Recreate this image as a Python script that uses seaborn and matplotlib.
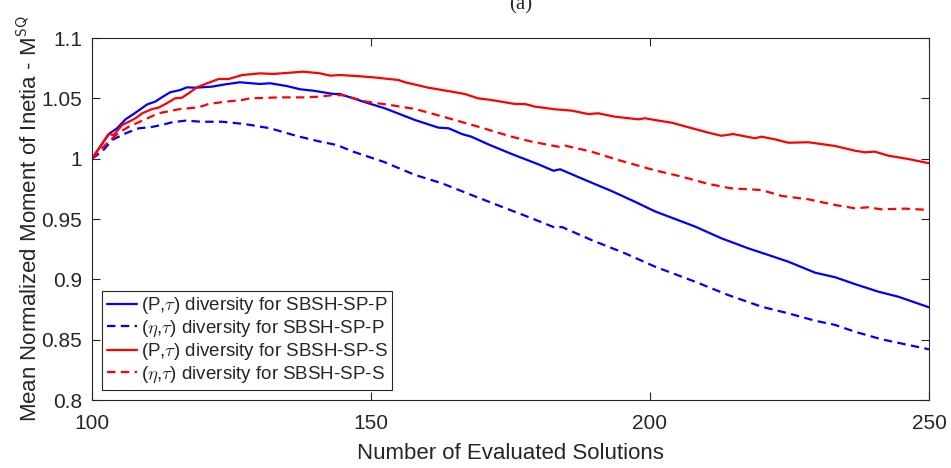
import matplotlib
matplotlib.use("Agg")
import matplotlib.pyplot as plt
import seaborn as sns
import pandas as pd

# ---- data ----
x_blue_solid = [100, 103.0, 104.5, 106.0, 107.8, 109.9, 111.3, 112.5, 114.0, 115.8, 117.0, 118.5, 121.5,
                123.9, 126.5, 130.1, 131.9, 134.9, 137.3, 139.7, 143.3, 144.4, 146.8, 149.2, 152.5,
                157.9, 162.1, 163.9, 166.3, 168.0, 171.0, 175.2, 180.0, 182.7, 183.9, 188.4, 193.1,
                197.3, 200.9, 208.1, 212.8, 217.6, 221.2, 224.8, 229.6, 233.2, 236.7, 240.9, 244.5, 250]
y_blue_solid = [1.0, 1.0204, 1.0252, 1.0326, 1.0381, 1.045, 1.0472, 1.0508, 1.055, 1.0569, 1.0591, 1.0588,
                1.0597, 1.0616, 1.0633, 1.0619, 1.0625, 1.0602, 1.0575, 1.0563, 1.0536, 1.0536, 1.05,
                1.0464, 1.0417, 1.032, 1.0257, 1.0252, 1.0204, 1.0182, 1.0119, 1.0039, 0.9953, 0.99,
                0.9912, 0.9823, 0.9732, 0.9643, 0.9563, 0.9437, 0.934, 0.9257, 0.9202, 0.9146, 0.9055,
                0.9017, 0.8961, 0.8898, 0.8856, 0.8768]

x_blue_dash = [100, 101.8, 103.6, 106.0, 108.4, 110.4, 112.5, 114.3, 116.7, 119.7, 123.3, 127.4, 131.9,
               136.7, 140.9, 143.9, 146.8, 152.2, 157.9, 162.7, 168.0, 173.4, 178.8, 183.0, 184.2,
               189.5, 195.5, 200.9, 208.1, 214.0, 220.0, 224.8, 229.6, 233.2, 236.7, 241.5, 246.3, 250]
y_blue_dash = [1.0, 1.0058, 1.0155, 1.021, 1.0252, 1.026, 1.0279, 1.0301, 1.0315, 1.0306, 1.0306, 1.0287,
               1.0252, 1.0188, 1.0141, 1.0113, 1.0058, 0.9975, 0.9865, 0.9796, 0.9699, 0.9602, 0.9506,
               0.9428, 0.9434, 0.9326, 0.9216, 0.9105, 0.898, 0.887, 0.8773, 0.8718, 0.8657, 0.8622,
               0.8566, 0.8503, 0.8456, 0.842]

x_red_solid = [100, 103.0, 103.9, 105.4, 106.6, 107.8, 109.0, 110.8, 111.9, 113.4, 114.9, 116.1, 117.3,
               118.8, 120.6, 122.7, 124.5, 126.9, 130.1, 132.5, 137.9, 140.9, 142.7, 144.4, 147.4,
               150.4, 154.9, 156.1, 160.3, 164.5, 166.8, 169.2, 171.6, 173.4, 175.8, 177.6, 179.4,
               183.0, 186.0, 188.9, 190.7, 193.7, 197.9, 199.1, 200.9, 203.9, 206.9, 210.5, 212.8,
               214.9, 218.8, 220.0, 222.4, 224.8, 228.4, 233.2, 236.7, 238.5, 240.3, 242.7, 246.3, 250]
y_red_solid = [1.0, 1.0204, 1.0196, 1.0279, 1.0306, 1.0335, 1.0376, 1.0412, 1.0422, 1.0459, 1.05, 1.0505,
               1.0541, 1.0591, 1.0624, 1.066, 1.066, 1.0693, 1.0707, 1.0702, 1.0721, 1.0707, 1.0688,
               1.0693, 1.0685, 1.0674, 1.0652, 1.0633, 1.0588, 1.0555, 1.0536, 1.05, 1.0486, 1.0472,
               1.0453, 1.0453, 1.0431, 1.0409, 1.0398, 1.037, 1.0376, 1.0348, 1.0326, 1.0335, 1.032,
               1.0298, 1.026, 1.0215, 1.019, 1.0204, 1.0169, 1.0182, 1.016, 1.0132, 1.0136, 1.0105,
               1.0066, 1.0053, 1.0058, 1.0025, 0.9997, 0.9962]

x_red_dash = [100, 101.8, 103.3, 104.8, 106.6, 109.0, 111.9, 115.5, 119.1, 120.9, 123.9, 126.9, 128.3,
              133.7, 137.9, 140.9, 143.3, 145.0, 149.2, 153.4, 157.9, 163.3, 169.2, 175.2, 178.8,
              183.6, 184.8, 189.5, 194.3, 200.9, 205.7, 210.5, 214.6, 220.0, 223.6, 228.4, 233.2,
              236.7, 239.1, 241.5, 245.7, 250]
y_red_dash = [1.0, 1.0086, 1.0155, 1.0215, 1.0265, 1.0315, 1.0376, 1.0409, 1.0426, 1.0453, 1.0472, 1.0486,
              1.05, 1.0508, 1.0508, 1.0514, 1.0528, 1.0525, 1.0472, 1.0445, 1.0412, 1.0343, 1.0265,
              1.0182, 1.0141, 1.0099, 1.0108, 1.0058, 0.9989, 0.9903, 0.9851, 0.979, 0.9754, 0.974,
              0.9691, 0.9663, 0.9616, 0.9589, 0.9597, 0.958, 0.9586, 0.9575]

labels = [r'(P,$\tau$) diversity for SBSH-SP-P',
          r'($\eta$,$\tau$) diversity for SBSH-SP-P',
          r'(P,$\tau$) diversity for SBSH-SP-S',
          r'($\eta$,$\tau$) diversity for SBSH-SP-S']
x_ticks = [100, 150, 200, 250]
y_ticks = [0.8, 0.85, 0.9, 0.95, 1.0, 1.05, 1.1]
y_ticklabels = ['0.8', '0.85', '0.9', '0.95', '1', '1.05', '1.1']

sns.set_style("ticks")
plt.rcParams['font.family'] = ['Liberation Sans', 'DejaVu Sans']
plt.rcParams['mathtext.fontset'] = 'cm'

fig = plt.figure(figsize=(9.51, 4.68), dpi=100)
ax = fig.add_axes([92/951, 68/468, (929-92)/951, (400-38)/468])

series = [(x_blue_solid, y_blue_solid, '#0000FF', '-'),
          (x_blue_dash, y_blue_dash, '#0000FF', '--'),
          (x_red_solid, y_red_solid, '#FF0000', '-'),
          (x_red_dash, y_red_dash, '#FF0000', '--')]
for (xs, ys, c, ls), lab in zip(series, labels):
    df = pd.DataFrame({'x': xs, 'y': ys})
    sns.lineplot(data=df, x='x', y='y', ax=ax, color=c, linewidth=1.6, label=lab)
    if ls == '--':
        ax.get_lines()[-1].set_dashes((3.8, 2.4))

ax.set_xlim(100, 250)
ax.set_ylim(0.8, 1.1)
ax.set_xticks(x_ticks)
ax.set_xticklabels([str(t) for t in x_ticks])
ax.set_yticks(y_ticks)
ax.set_yticklabels(y_ticklabels)
ax.tick_params(direction='in', top=True, right=True, length=6, width=0.8,
               labelsize=15, colors='#262626')
ax.tick_params(axis='x', pad=10)
ax.tick_params(axis='y', pad=7)
for s in ax.spines.values():
    s.set_visible(True)
    s.set_color('#262626')
    s.set_linewidth(0.8)

ax.set_xlabel('Number of Evaluated Solutions', fontsize=16, color='#262626', labelpad=7)
ax.set_ylabel(r'Mean Normalized Moment of Inetia - M$^{\mathsf{SQ}}$', fontsize=16,
              color='#262626', labelpad=-0.5)

leg = ax.legend(loc='lower left', fontsize=13.5, frameon=True, fancybox=False,
                handlelength=1.6, handletextpad=0.2, borderpad=0.25, labelspacing=0.12,
                borderaxespad=0.55)
leg.get_frame().set_edgecolor('#262626')
leg.get_frame().set_linewidth(0.8)
leg.get_frame().set_alpha(1)

fig.text(521/951, 1 - 9/468, '(a)', family='Liberation Serif', fontsize=15,
         ha='center', va='baseline')

fig.savefig('out.png', dpi=100)
